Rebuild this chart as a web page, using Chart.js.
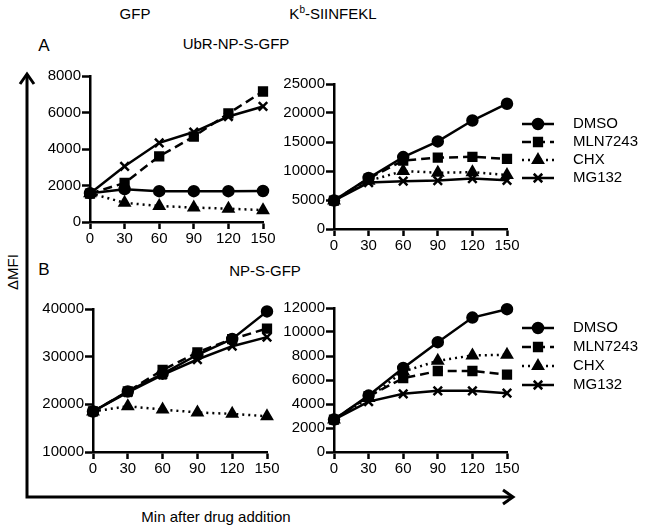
<!DOCTYPE html>
<html lang="en">
<head>
  <meta charset="UTF-8">
  <title>UbR-NP-S-GFP / NP-S-GFP</title>
  <script src="https://cdn.jsdelivr.net/npm/chart.js@4"></script>
  <style>
    body { margin: 0; width: 645px; height: 530px; position: relative; background: #fff;
           font-family: "Liberation Sans", Arial, sans-serif; color: #000; overflow: hidden; }
    canvas { position: absolute; }
    .t { position: absolute; font-size: 15px; white-space: nowrap; transform: translate(-50%, -50%); }
    svg { position: absolute; left: 0; top: 0; }
  </style>
</head>
<body>
  <div class="t" style="left:135px; top:13px;">GFP</div>
  <div class="t" style="left:333px; top:13px;">K<sup style="font-size:10px">b</sup>-SIINFEKL</div>
  <div class="t" style="left:236px; top:43px;">UbR-NP-S-GFP</div>
  <div class="t" style="left:44px; top:46px; font-size:17px;">A</div>
  <div class="t" style="left:44px; top:270px; font-size:17px;">B</div>
  <div class="t" style="left:265px; top:270px;">NP-S-GFP</div>
  <div class="t" style="left:12px; top:272px; transform: translate(-50%, -50%) rotate(-90deg);">ΔMFI</div>
  <div class="t" style="left:216px; top:516px;">Min after drug addition</div>

  <svg width="645" height="530">
    <g stroke="#000" stroke-width="3" fill="none" stroke-linejoin="miter">
      <path d="M27 74 L27 497 L512 497" />
      <path d="M20 84 L27 74 L34 84" />
      <path d="M503 490 L513 497 L503 504" />
    </g>
  </svg>

  <canvas id="aGfp"></canvas>
  <canvas id="aKb"></canvas>
  <canvas id="bGfp"></canvas>
  <canvas id="bKb"></canvas>

  <script>
    // tiempo en minutos
    const minutes = [0, 30, 60, 90, 120, 150];
    const names = ["DMSO", "MLN7243", "CHX", "MG132"];

    // A - UbR-NP-S-GFP, GFP
    const aGfpDmso = [1580, 1800, 1690, 1690, 1690, 1700];
    const aGfpMln  = [1560, 2140, 3600, 4680, 5950, 7150];
    const aGfpChx  = [1580, 1050, 880, 790, 730, 650];
    const aGfpMg   = [1560, 3050, 4340, 4930, 5780, 6330];

    // A - UbR-NP-S-GFP, Kb-SIINFEKL
    const aKbDmso = [4900, 8800, 12400, 15100, 18700, 21600];
    const aKbMln  = [4900, 8700, 11800, 12300, 12450, 12100];
    const aKbChx  = [4900, 8300, 10000, 9700, 9800, 9300];
    const aKbMg   = [4900, 8000, 8250, 8350, 8700, 8400];

    // B - NP-S-GFP, GFP
    const bGfpDmso = [18500, 22700, 26400, 30400, 33700, 39500];
    const bGfpMln  = [18500, 22700, 27200, 30900, 33700, 35900];
    const bGfpChx  = [18500, 19600, 18900, 18300, 18000, 17500];
    const bGfpMg   = [18500, 22500, 26200, 29400, 32200, 34100];

    // B - NP-S-GFP, Kb-SIINFEKL
    const bKbDmso = [2700, 4700, 7000, 9150, 11200, 11900];
    const bKbMln  = [2700, 4650, 6150, 6750, 6750, 6450];
    const bKbChx  = [2700, 4500, 6700, 7600, 8050, 8100];
    const bKbMg   = [2700, 4200, 4850, 5100, 5100, 4900];

    const styles = [
      { pointStyle: "circle",   pointRadius: 5,   borderDash: [] },
      { pointStyle: "rect",     pointRadius: 5.5, borderDash: [9, 5] },
      { pointStyle: "triangle", pointRadius: 5.5, borderDash: [2, 4] },
      { pointStyle: "crossRot", pointRadius: 6,   borderDash: [] }
    ];

    const FONT = "Liberation Sans, Arial, sans-serif";
    const Y_W = 60, X_H = 30, TOP = 14;

    // leyenda dibujada a mano en el canvas
    const sideLegend = {
      id: "sideLegend",
      afterDraw(chart, args, opts) {
        if (!opts.rows) return;
        const ctx = chart.ctx;
        chart.data.datasets.forEach((ds, i) => {
          const y = opts.rows[i];
          ctx.save();
          ctx.strokeStyle = "#000";
          ctx.lineWidth = 2.5;
          ctx.setLineDash(ds.borderDash || []);
          ctx.beginPath();
          ctx.moveTo(opts.x0, y);
          ctx.lineTo(opts.x1, y);
          ctx.stroke();
          ctx.setLineDash([]);
          ctx.fillStyle = "#000";
          Chart.helpers.drawPoint(ctx, {
            pointStyle: ds.pointStyle, radius: ds.pointRadius,
            borderWidth: 2.5, rotation: 0
          }, (opts.x0 + opts.x1) / 2, y);
          ctx.font = "15px " + FONT;
          ctx.textBaseline = "middle";
          ctx.fillText(ds.label, opts.tx, y);
          ctx.restore();
        });
      }
    };

    function panel(id, plot, yAxis, series, legend) {
      const cv = document.getElementById(id);
      const rightPad = legend ? 645 - plot.left - plot.w : 22;
      cv.width = Y_W + plot.w + rightPad;
      cv.height = TOP + plot.h + X_H;
      cv.style.left = (plot.left - Y_W) + "px";
      cv.style.top = (plot.top - TOP) + "px";

      const datasets = series.map((vals, i) => ({
        label: names[i],
        data: vals,
        borderColor: "#000",
        backgroundColor: "#000",
        borderWidth: 2.5,
        pointBorderWidth: 2.5,
        pointHoverRadius: styles[i].pointRadius,
        tension: 0,
        ...styles[i]
      }));

      new Chart(cv.getContext("2d"), {
        type: "line",
        data: { labels: minutes, datasets },
        plugins: [sideLegend],
        options: {
          responsive: false,
          animation: false,
          clip: false,
          layout: { padding: { top: TOP, right: rightPad, left: 0, bottom: 0 } },
          plugins: {
            legend: { display: false },
            tooltip: { enabled: false },
            sideLegend: legend || {}
          },
          scales: {
            x: {
              type: "category",
              offset: false,
              afterFit: s => { s.height = X_H; },
              border: { color: "#000", width: 2.5 },
              grid: { drawOnChartArea: false, drawTicks: true, tickLength: 7, tickColor: "#000", tickWidth: 2.5 },
              ticks: { color: "#000", font: { size: 15, family: FONT }, padding: 1, autoSkip: false, maxRotation: 0 }
            },
            y: {
              min: yAxis.min, max: yAxis.max,
              afterFit: s => { s.width = Y_W; },
              border: { color: "#000", width: 2.5 },
              grid: { drawOnChartArea: false, drawTicks: true, tickLength: 8, tickColor: "#000", tickWidth: 2.5 },
              ticks: {
                stepSize: yAxis.step, color: "#000", font: { size: 15, family: FONT }, padding: 1,
                callback: v => String(v)
              }
            }
          }
        }
      });
    }

    panel("aGfp", { left: 90, top: 76, w: 173, h: 146 },
      { min: 0, max: 8000, step: 2000 },
      [aGfpDmso, aGfpMln, aGfpChx, aGfpMg]);

    panel("aKb", { left: 334, top: 84, w: 173, h: 145 },
      { min: 0, max: 25000, step: 5000 },
      [aKbDmso, aKbMln, aKbChx, aKbMg],
      { x0: 522 - 274, x1: 554 - 274, tx: 573 - 274, rows: [54, 72, 90, 108] });

    panel("bGfp", { left: 93, top: 309, w: 174, h: 143 },
      { min: 10000, max: 40000, step: 10000 },
      [bGfpDmso, bGfpMln, bGfpChx, bGfpMg]);

    panel("bKb", { left: 334, top: 308, w: 173, h: 144 },
      { min: 0, max: 12000, step: 2000 },
      [bKbDmso, bKbMln, bKbChx, bKbMg],
      { x0: 522 - 274, x1: 554 - 274, tx: 573 - 274, rows: [34, 53, 72, 91] });
  </script>
</body>
</html>
